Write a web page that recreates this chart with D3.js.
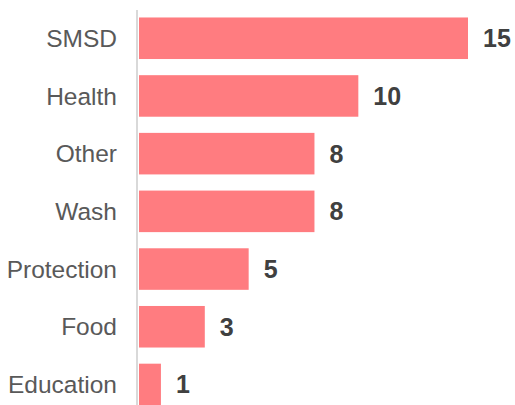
<!DOCTYPE html>
<html>
<head>
<meta charset="utf-8">
<script src="https://cdn.jsdelivr.net/npm/d3@7"></script>
<style>
  html, body { margin: 0; padding: 0; background: #fff; }
  svg { display: block; }
</style>
</head>
<body>
<svg id="chart" width="515" height="405"></svg>
<script>
// Responses by sector
const categories = ["SMSD", "Health", "Other", "Wash", "Protection", "Food", "Education"];
const counts = [15, 10, 8, 8, 5, 3, 1];

const svg = d3.select("#chart");
const axisX = 137;

const x = d3.scaleLinear().domain([0, 15]).range([139, 468]);
const y = d3.scaleBand()
  .domain(categories)
  .range([9.4, 413.3])
  .paddingInner(0.28)
  .paddingOuter(0.14);

// bars
svg.append("g").selectAll("rect")
  .data(categories)
  .join("rect")
  .attr("x", x(0))
  .attr("y", d => y(d))
  .attr("width", (d, i) => x(counts[i]) - x(0))
  .attr("height", y.bandwidth())
  .attr("fill", "#FF7C80");

// vertical category axis (line only, labels drawn beside it)
const axis = d3.axisLeft(y).tickSize(0).tickPadding(20);
const gAxis = svg.append("g")
  .attr("transform", `translate(${axisX},0)`)
  .call(axis);
gAxis.select(".domain")
  .attr("d", `M0,10V405`)
  .attr("stroke", "#D9D9D9")
  .attr("stroke-width", 2);
gAxis.selectAll(".tick text")
  .attr("font-family", "Arial, 'Liberation Sans', sans-serif")
  .attr("font-size", 24.5)
  .attr("fill", "#595959")
  .attr("dy", "0.35em");

// value labels
svg.append("g").selectAll("text")
  .data(categories)
  .join("text")
  .attr("x", (d, i) => x(counts[i]) + 15)
  .attr("y", d => y(d) + y.bandwidth() / 2)
  .attr("dy", "0.36em")
  .attr("font-family", "Arial, 'Liberation Sans', sans-serif")
  .attr("font-size", 25)
  .attr("font-weight", "bold")
  .attr("fill", "#404040")
  .text((d, i) => counts[i]);
</script>
</body>
</html>
